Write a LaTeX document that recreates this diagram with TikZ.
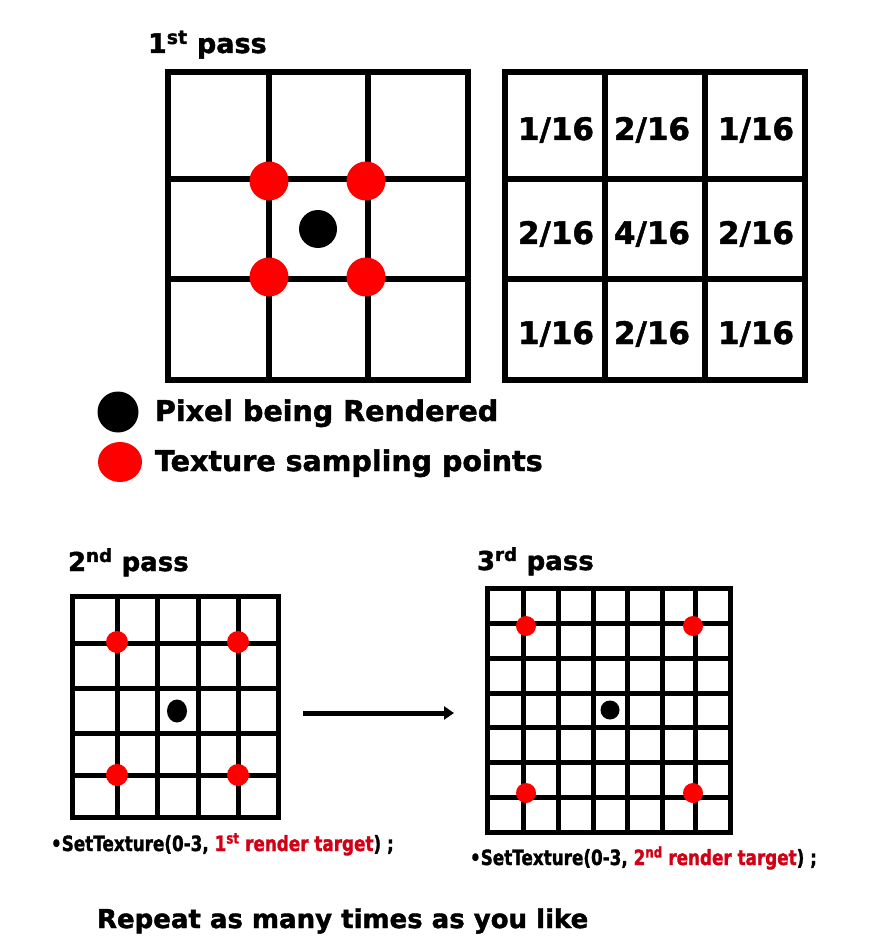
\documentclass[tikz,border=0pt]{standalone}
\usepackage{fontspec}
\setmainfont{DejaVu Sans}[BoldFeatures={FakeBold=1.6}]
\usepackage{graphicx}
\usetikzlibrary{arrows.meta}
\definecolor{dotred}{RGB}{255,0,0}
\definecolor{txtred}{RGB}{210,0,20}
\tikzset{
  gridA/.style={line width=5.5pt, draw=black},
  gridB/.style={line width=5pt, draw=black},
  gridC/.style={line width=5pt, draw=black},
  lbl/.style={inner sep=0pt, outer sep=0pt, anchor=base west},
  wlbl/.style={inner sep=0pt, outer sep=0pt, anchor=base, font=\fontsize{31}{36}\selectfont\bfseries},
  reddot/.style={circle, fill=dotred, draw=none, inner sep=0pt},
  blackdot/.style={circle, fill=black, draw=none, inner sep=0pt},
  passarrow/.style={line width=5pt, -{Triangle[length=10pt,width=13pt]}},
}
\begin{document}
\begin{tikzpicture}[x=1pt,y=-1pt]
\useasboundingbox[fill=white] (0,0) rectangle (890,949);

% ---------- 1st pass ----------
\node[lbl, font=\fontsize{27}{30}\selectfont\bfseries] (t1) at (148,53) {1\textsuperscript{st} pass};
\draw[gridA] (168,72) rectangle (468,380);
\foreach \x in {269,368} \draw[gridA] (\x,72) -- (\x,380);
\foreach \y in {179,279} \draw[gridA] (168,\y) -- (468,\y);
\node[reddot, minimum size=39pt] (r1) at (269,181) {};
\node[reddot, minimum size=39pt] (r2) at (366,181) {};
\node[reddot, minimum size=39pt] (r3) at (269,277) {};
\node[reddot, minimum size=39pt] (r4) at (366,277) {};
\node[blackdot, minimum size=38pt] (b1) at (318,229) {};

% ---------- weights ----------
\draw[gridA] (505,72) rectangle (805,380);
\foreach \x in {605,705} \draw[gridA] (\x,72) -- (\x,380);
\foreach \y in {179,279} \draw[gridA] (505,\y) -- (805,\y);
\node[wlbl] (w11) at (556,140) {1/16};
\node[wlbl] (w12) at (652,140) {2/16};
\node[wlbl] (w13) at (756,140) {1/16};
\node[wlbl] (w21) at (556,244) {2/16};
\node[wlbl] (w22) at (652,244) {4/16};
\node[wlbl] (w23) at (756,244) {2/16};
\node[wlbl] (w31) at (556,344) {1/16};
\node[wlbl] (w32) at (652,344) {2/16};
\node[wlbl] (w33) at (756,344) {1/16};

% ---------- legend ----------
\node[blackdot, minimum size=41pt] (lb) at (118,412) {};
\node[lbl, font=\fontsize{28.5}{32}\selectfont\bfseries] (lbt) at (155,421) {Pixel being Rendered};
\fill[dotred] (120,462) ellipse [x radius=22pt, y radius=20pt];
\coordinate (lr) at (120,462);
\node[lbl, font=\fontsize{28.5}{32}\selectfont\bfseries] (lrt) at (155,471) {Texture sampling points};

% ---------- 2nd pass ----------
\node[lbl, font=\fontsize{26}{30}\selectfont\bfseries] (t2) at (68,571) {2\textsuperscript{nd} pass};
\draw[gridB] (72,596) rectangle (278,817);
\foreach \x in {117,157,198,238} \draw[gridB] (\x,596) -- (\x,817);
\foreach \y in {643,688,733,775} \draw[gridB] (72,\y) -- (278,\y);
\node[reddot, minimum size=22pt] (s1) at (117,642) {};
\node[reddot, minimum size=22pt] (s2) at (238,642) {};
\node[reddot, minimum size=22pt] (s3) at (117,775) {};
\node[reddot, minimum size=22pt] (s4) at (238,775) {};
\fill[black] (177,711) ellipse [x radius=10pt, y radius=11.5pt];
\coordinate (b2) at (177,711);

% ---------- arrow ----------
\coordinate (a1) at (303,713);
\coordinate (a2) at (454,713);
\draw[passarrow] (a1) -- (a2);

% ---------- 3rd pass ----------
\node[lbl, font=\fontsize{26}{30}\selectfont\bfseries] (t3) at (477,570) {3\textsuperscript{rd} pass};
\draw[gridC] (487,588) rectangle (730,832);
\foreach \x in {523,558,593,627,662,695} \draw[gridC] (\x,588) -- (\x,832);
\foreach \y in {623,658,693,727,762,797} \draw[gridC] (487,\y) -- (730,\y);
\node[reddot, minimum size=20pt] (q1) at (526,626) {};
\node[reddot, minimum size=20pt] (q2) at (693,626) {};
\node[reddot, minimum size=20pt] (q3) at (526,793) {};
\node[reddot, minimum size=20pt] (q4) at (693,793) {};
\node[blackdot, minimum size=19pt] (b3) at (610,710) {};

% ---------- captions ----------
\node[lbl, font=\fontsize{21}{25}\selectfont\bfseries] (c1) at (51,851)
  {\scalebox{0.8}[1]{•SetTexture(0-3, \textcolor{txtred}{1\textsuperscript{st} render target}) ;}};
\node[lbl, font=\fontsize{21}{25}\selectfont\bfseries] (c2) at (470,865)
  {\scalebox{0.8}[1]{•SetTexture(0-3, \textcolor{txtred}{2\textsuperscript{nd} render target}) ;}};
\node[lbl, font=\fontsize{26}{30}\selectfont\bfseries] (rp) at (97,928) {Repeat as many times as you like};
\end{tikzpicture}
\end{document}
